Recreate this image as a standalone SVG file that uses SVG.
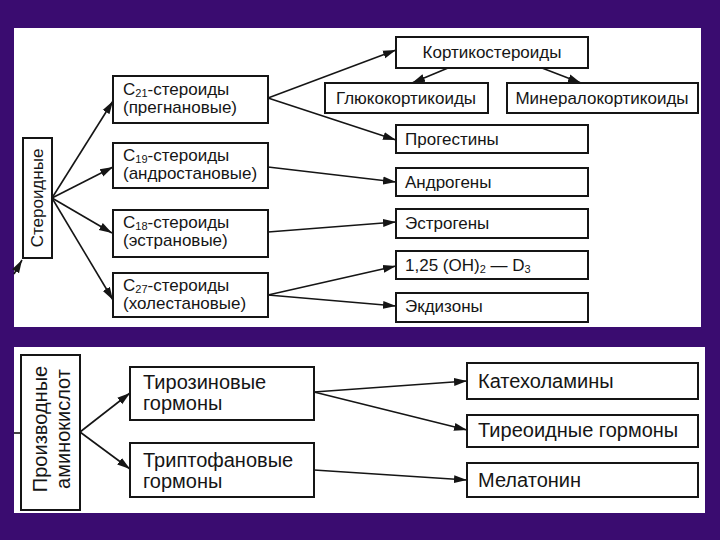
<svg xmlns="http://www.w3.org/2000/svg" width="720" height="540" viewBox="0 0 720 540">
<style>
.box{fill:#fff;stroke:#151515;stroke-width:2}
.t{font-family:"Liberation Sans",Arial,sans-serif;font-size:17px;fill:#151515}
.tb{font-family:"Liberation Sans",Arial,sans-serif;font-size:20px;fill:#151515}
.c{text-anchor:middle}
.ln{fill:none;stroke:#151515;stroke-width:1.6}
</style>
<defs>
<marker id="ah" markerUnits="userSpaceOnUse" markerWidth="14" markerHeight="10" refX="13" refY="5" orient="auto">
<path d="M0,1 L13,5 L0,9 Z" fill="#151515"/>
</marker>
</defs>
<rect x="0" y="0" width="720" height="540" fill="#3a0c70"/>
<rect x="14" y="28" width="687" height="299" fill="#fff"/>
<rect x="14" y="347" width="691" height="166" fill="#fff"/>

<g id="connectors">
<path class="ln" d="M14,274 L22,260" marker-end="url(#ah)"/>
<path class="ln" d="M14,433 L21,433"/>
<path class="ln" d="M52,198 L113,101" marker-end="url(#ah)"/>
<path class="ln" d="M52,198 L113,167" marker-end="url(#ah)"/>
<path class="ln" d="M52,198 L112,233" marker-end="url(#ah)"/>
<path class="ln" d="M52,198 L113,300" marker-end="url(#ah)"/>
<path class="ln" d="M268,98 L396,50" marker-end="url(#ah)"/>
<path class="ln" d="M268,98 L396,140" marker-end="url(#ah)"/>
<path class="ln" d="M448,68 L412,83" marker-end="url(#ah)"/>
<path class="ln" d="M542,68 L581,83" marker-end="url(#ah)"/>
<path class="ln" d="M268,167 L396,182" marker-end="url(#ah)"/>
<path class="ln" d="M268,232 L396,222" marker-end="url(#ah)"/>
<path class="ln" d="M268,295 L396,266" marker-end="url(#ah)"/>
<path class="ln" d="M268,295 L396,306" marker-end="url(#ah)"/>
<path class="ln" d="M80,432 L130,393" marker-end="url(#ah)"/>
<path class="ln" d="M80,432 L130,469" marker-end="url(#ah)"/>
<path class="ln" d="M314,392 L467,381" marker-end="url(#ah)"/>
<path class="ln" d="M314,392 L467,430" marker-end="url(#ah)"/>
<path class="ln" d="M314,470 L467,480" marker-end="url(#ah)"/>
</g>

<g id="steroids">
<rect class="box" x="23" y="138" width="29" height="120"/>
<text class="t" font-size="16" transform="translate(43,198) rotate(-90)" text-anchor="middle">Стероидные</text>
</g>
<g id="c21">
<rect class="box" x="113" y="76" width="155" height="47"/>
<text class="t" x="123" y="95">C<tspan font-size="11" dy="2">21</tspan><tspan dy="-2">-стероиды</tspan></text>
<text class="t" x="123" y="113">(прегнановые)</text>
</g>
<g id="c19">
<rect class="box" x="113" y="143" width="155" height="45"/>
<text class="t" x="123" y="161">C<tspan font-size="11" dy="2">19</tspan><tspan dy="-2">-стероиды</tspan></text>
<text class="t" x="123" y="179">(андростановые)</text>
</g>
<g id="c18">
<rect class="box" x="113" y="210" width="155" height="47"/>
<text class="t" x="123" y="228">C<tspan font-size="11" dy="2">18</tspan><tspan dy="-2">-стероиды</tspan></text>
<text class="t" x="123" y="246">(эстрановые)</text>
</g>
<g id="c27">
<rect class="box" x="113" y="273" width="155" height="44"/>
<text class="t" x="123" y="291">C<tspan font-size="11" dy="2">27</tspan><tspan dy="-2">-стероиды</tspan></text>
<text class="t" x="123" y="309">(холестановые)</text>
</g>
<g id="corticosteroids">
<rect class="box" x="396" y="37" width="192" height="31"/>
<text class="t c" x="492" y="58">Кортикостероиды</text>
</g>
<g id="glucocorticoids">
<rect class="box" x="325" y="83" width="163" height="30"/>
<text class="t c" x="406" y="104">Глюкокортикоиды</text>
</g>
<g id="mineralocorticoids">
<rect class="box" x="507" y="83" width="191" height="30"/>
<text class="t c" x="602" y="104">Минералокортикоиды</text>
</g>
<g id="progestins">
<rect class="box" x="396" y="125" width="192" height="28"/>
<text class="t" x="405" y="145">Прогестины</text>
</g>
<g id="androgens">
<rect class="box" x="396" y="168" width="192" height="28"/>
<text class="t" x="405" y="188">Андрогены</text>
</g>
<g id="estrogens">
<rect class="box" x="396" y="209" width="192" height="29"/>
<text class="t" x="405" y="229">Эстрогены</text>
</g>
<g id="vitd">
<rect class="box" x="396" y="251" width="192" height="28"/>
<text class="t" x="405" y="271">1,25 (OH)<tspan font-size="11" dy="2">2</tspan><tspan dy="-2"> — D</tspan><tspan font-size="11" dy="2">3</tspan></text>
</g>
<g id="ecdysones">
<rect class="box" x="396" y="293" width="192" height="29"/>
<text class="t" x="405" y="312">Экдизоны</text>
</g>

<g id="aminoacids">
<rect class="box" x="21" y="355" width="59" height="155"/>
<text class="tb" transform="translate(47,429) rotate(-90)" text-anchor="middle">Производные</text>
<text class="tb" transform="translate(70,429) rotate(-90)" text-anchor="middle">аминокислот</text>
</g>
<g id="tyrosine">
<rect class="box" x="130" y="367" width="184" height="53"/>
<text class="tb" x="143" y="389">Тирозиновые</text>
<text class="tb" x="143" y="410">гормоны</text>
</g>
<g id="tryptophan">
<rect class="box" x="130" y="443" width="184" height="54"/>
<text class="tb" x="143" y="467">Триптофановые</text>
<text class="tb" x="143" y="488">гормоны</text>
</g>
<g id="catecholamines">
<rect class="box" x="467" y="363" width="231" height="36"/>
<text class="tb" x="478" y="388">Катехоламины</text>
</g>
<g id="thyroid">
<rect class="box" x="467" y="415" width="231" height="32"/>
<text class="tb" x="478" y="437">Тиреоидные гормоны</text>
</g>
<g id="melatonin">
<rect class="box" x="467" y="463" width="231" height="34"/>
<text class="tb" x="478" y="487">Мелатонин</text>
</g>
</svg>
